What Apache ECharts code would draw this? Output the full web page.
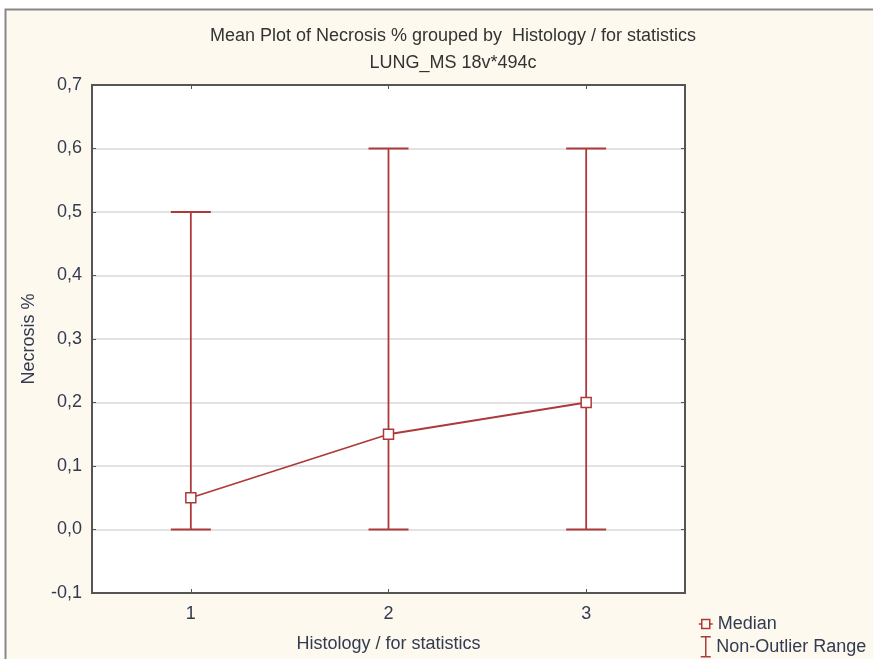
<!DOCTYPE html>
<html><head><meta charset="utf-8">
<script src="https://cdn.jsdelivr.net/npm/echarts@6/dist/echarts.min.js"></script>
<style>html,body{margin:0;padding:0;background:#fff;}#c{width:873px;height:659px;}</style>
</head><body><div id="c"></div>
<script>
const categories = ['1', '2', '3'];
const medians = [0.05, 0.15, 0.2];
const rangeLow = [0, 0, 0];
const rangeHigh = [0.5, 0.6, 0.6];
const yTicks = [-0.1, 0.7, 0.1]; // min, max, interval

const red = '#ad3a3a';
const txt = '#333b52';
const FF = 'Liberation Sans, Arial';
const FS = 18;
const chart = echarts.init(document.getElementById('c'));
const errData = categories.map((c, i) => [i, rangeLow[i], rangeHigh[i]]);
const legendText = { fontFamily: FF, fontSize: FS, color: txt };
chart.setOption({
  backgroundColor: '#fff',
  animation: false,
  graphic: [{
    type: 'rect', z: -10, silent: true,
    shape: { x: 5.5, y: 9.5, width: 900, height: 700 },
    style: { fill: '#fdf9ee', stroke: '#888', lineWidth: 2 }
  }],
  title: [
    { text: 'Mean Plot of Necrosis % grouped by  Histology / for statistics', left: 448, top: 22, textAlign: 'center',
      textStyle: { fontFamily: FF, fontSize: FS, fontWeight: 'normal', color: '#333' } },
    { text: 'LUNG_MS 18v*494c', left: 448, top: 49, textAlign: 'center',
      textStyle: { fontFamily: FF, fontSize: FS, fontWeight: 'normal', color: '#333' } }
  ],
  legend: [{
    left: 698, top: 615, itemWidth: 14, itemHeight: 11, padding: 0,
    textStyle: legendText,
    data: [{ name: 'Median', icon: 'path://M0,5.5 L3,5.5 M3,1 L11,1 L11,10 L3,10 Z M11,5.5 L14,5.5',
      itemStyle: { color: 'transparent', borderColor: red, borderWidth: 1.5 } }]
  }, {
    left: 700, top: 636, itemWidth: 11, itemHeight: 20, padding: 0,
    textStyle: legendText,
    data: [{ name: 'Non-Outlier Range', icon: 'path://M0,0 L10,0 M5,0 L5,20 M0,20 L10,20',
      itemStyle: { color: 'transparent', borderColor: red, borderWidth: 1.5 } }]
  }],
  grid: { left: 92, top: 85, width: 593, height: 508, show: true, backgroundColor: '#fff', borderColor: '#555', borderWidth: 2 },
  xAxis: [{
    type: 'category', data: categories, boundaryGap: true, position: 'bottom',
    name: 'Histology / for statistics', nameLocation: 'middle', nameGap: 42,
    nameTextStyle: { fontFamily: FF, fontSize: FS, color: txt },
    axisLine: { onZero: false, lineStyle: { color: '#555', width: 2 } },
    axisTick: { show: true, inside: true, alignWithLabel: true, length: 4, lineStyle: { color: '#555' } },
    axisLabel: { fontFamily: FF, fontSize: FS, color: txt, margin: 12 },
    splitLine: { show: false }
  }, {
    type: 'category', data: categories, boundaryGap: true, position: 'top',
    axisLine: { onZero: false, lineStyle: { color: '#555', width: 2 } },
    axisTick: { show: true, inside: true, alignWithLabel: true, length: 4, lineStyle: { color: '#555' } },
    axisLabel: { show: false }, splitLine: { show: false }
  }],
  yAxis: [{
    type: 'value', min: yTicks[0], max: yTicks[1], interval: yTicks[2],
    name: 'Necrosis %', nameLocation: 'middle', nameGap: 54,
    nameTextStyle: { fontFamily: FF, fontSize: FS, color: txt },
    axisLine: { show: true, onZero: false, lineStyle: { color: '#555', width: 2 } },
    axisTick: { show: true, inside: true, length: 4, lineStyle: { color: '#555' } },
    axisLabel: { fontFamily: FF, fontSize: FS, color: txt, margin: 10,
      formatter: v => v.toFixed(1).replace('.', ',') },
    splitLine: { show: true, lineStyle: { color: '#e2e2e2', width: 2 } }
  }, {
    type: 'value', min: yTicks[0], max: yTicks[1], interval: yTicks[2], position: 'right',
    axisLine: { show: true, onZero: false, lineStyle: { color: '#555', width: 2 } },
    axisTick: { show: true, inside: true, length: 4, lineStyle: { color: '#555' } },
    axisLabel: { show: false }, splitLine: { show: false }
  }],
  series: [{
    name: 'Non-Outlier Range', type: 'custom', xAxisIndex: 0, yAxisIndex: 0,
    itemStyle: { color: red },
    data: errData,
    renderItem: function (params, api) {
      const x = api.value(0);
      const lo = api.coord([x, api.value(1)]);
      const hi = api.coord([x, api.value(2)]);
      const hw = 20;
      const st = { stroke: red, lineWidth: 1.8, fill: null };
      return { type: 'group', children: [
        { type: 'line', shape: { x1: hi[0], y1: hi[1], x2: lo[0], y2: lo[1] }, style: st },
        { type: 'line', shape: { x1: hi[0] - hw, y1: hi[1], x2: hi[0] + hw, y2: hi[1] }, style: st },
        { type: 'line', shape: { x1: lo[0] - hw, y1: lo[1], x2: lo[0] + hw, y2: lo[1] }, style: st }
      ]};
    }
  }, {
    name: 'Median', type: 'line', data: medians, z: 5,
    symbol: 'rect', symbolSize: 10,
    lineStyle: { color: red, width: 1.8 },
    itemStyle: { color: '#fff', borderColor: red, borderWidth: 1.5 }
  }]
});
</script></body></html>
